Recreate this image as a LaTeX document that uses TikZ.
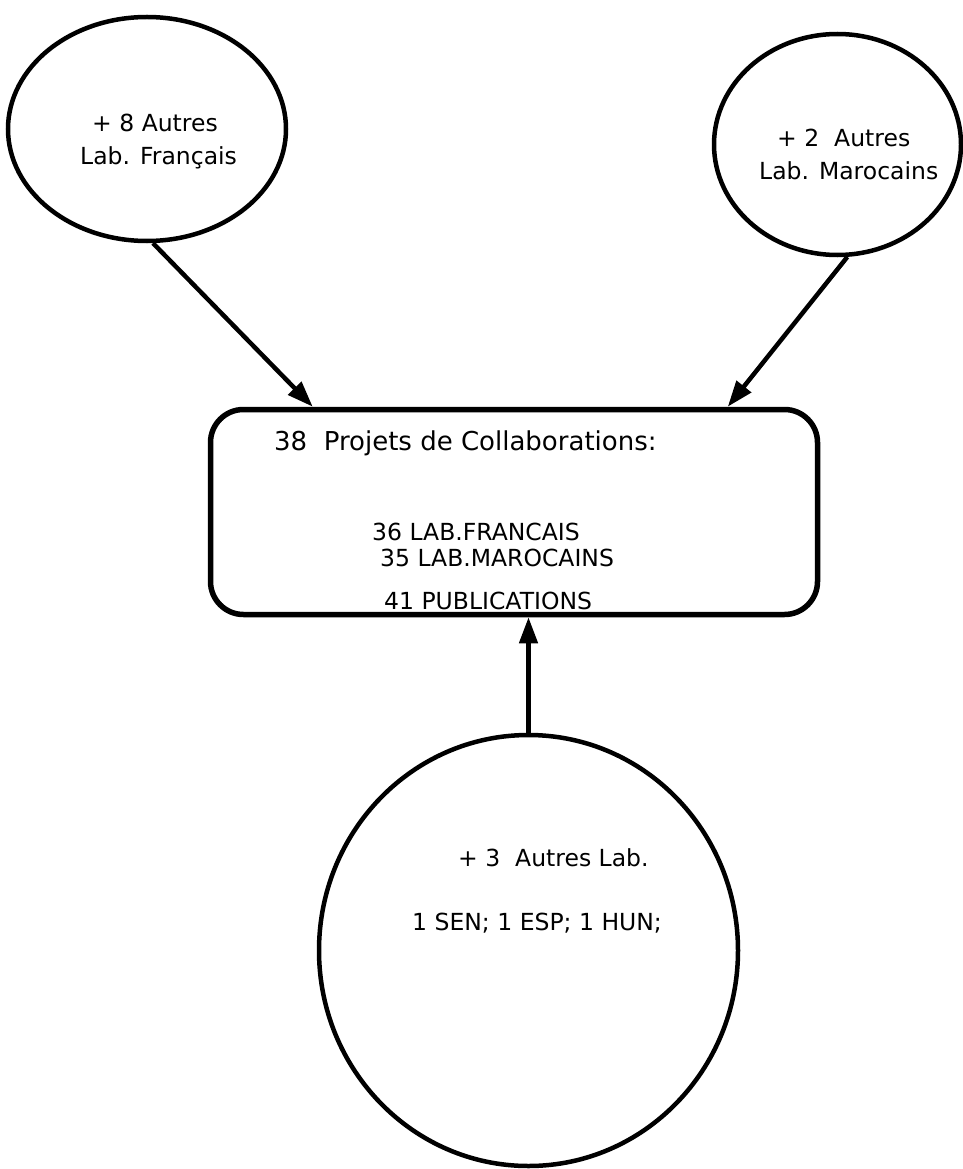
\documentclass[tikz,border=0pt]{standalone}
\usepackage{fontspec}
\setmainfont{DejaVu Sans}
\usetikzlibrary{shapes.geometric,arrows.meta}
\begin{document}
\begin{tikzpicture}[x=1pt,y=-1pt,
  bubble/.style={draw, ellipse, line width=4.5pt, inner sep=0pt},
  roundbox/.style={draw, rectangle, rounded corners=33pt, line width=5.5pt, inner sep=0pt},
  txt/.style={anchor=base west, inner sep=0pt, font=\fontsize{23.5}{28}\selectfont},
  head/.style={txt, font=\fontsize{26}{32}\selectfont},
  arr/.style={line width=4.5pt, -{Triangle[length=26pt,width=18pt]}}]
\useasboundingbox (0,0) rectangle (963,1169);
\fill[white] (0,0) rectangle (963,1169);
% bubbles
\node[bubble, minimum width=278pt, minimum height=224pt] (fr) at (147,129) {};
\node[bubble, minimum width=247pt, minimum height=221pt] (ma) at (837.5,144.5) {};
\node[bubble, minimum width=419pt, minimum height=431pt] (ot) at (528.5,950.5) {};
\node[roundbox, minimum width=607pt, minimum height=205pt] (box) at (514,512) {};
% connectors
\draw[arr] (fr.-87) -- ([xshift=105pt]box.north west);
\draw[arr] (ma.-85) -- ([xshift=520pt]box.north west);
\draw[arr] (ot.north) -- (ot.north |- box.south);
% texts
\node[txt] (t1) at (92,132) {+ 8 Autres};
\node[txt] (t2) at (80,165) {Lab. Français};
\node[txt] (t3) at (777,147) {+ 2~ Autres};
\node[txt] (t4) at (759,180) {Lab. Marocains};
\node[head] (h) at (274,450) {38~ Projets de Collaborations:};
\node[txt] (b1) at (372,540) {36 LAB.FRANCAIS};
\node[txt] (b2) at (380,566) {35 LAB.MAROCAINS};
\node[txt] (b3) at (384,609) {41 PUBLICATIONS};
\node[txt] (o1) at (458,866) {+ 3~ Autres Lab.};
\node[txt] (o2) at (412,930) {1 SEN; 1 ESP; 1 HUN;};
\end{tikzpicture}
\end{document}
